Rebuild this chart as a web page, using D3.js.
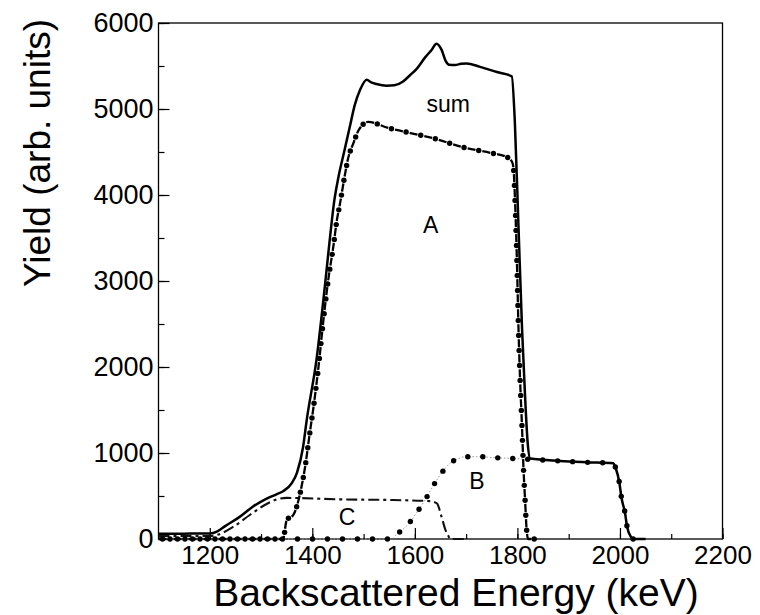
<!DOCTYPE html>
<html>
<head>
<meta charset="utf-8">
<script src="https://cdn.jsdelivr.net/npm/d3@7"></script>
<style>
  html, body { margin: 0; padding: 0; background: #fff; }
  svg { display: block; }
  text { font-family: "Liberation Sans", Arial, sans-serif; fill: #000; }
</style>
</head>
<body>
<svg id="chart" width="760" height="615"></svg>
<script>
// ---- data ----
const xTickValues = [1200, 1400, 1600, 1800, 2000, 2200];
const yTickValues = [0, 1000, 2000, 3000, 4000, 5000, 6000];
const xTitle = "Backscattered Energy (keV)";
const yTitle = "Yield (arb. units)";

const sumEnergy = [1100,1150,1200,1215,1230,1259,1285,1311,1330,1343,1360,1370,1382,1389,1408,1425,1434,1443,1451,1462,1473,1483,1493,1506,1515,1525,1545,1560,1577,1590,1604,1620,1633,1642,1652,1660,1667,1678,1690,1701,1727,1760,1789,1795,1802,1809,1815,1820,1825,1883,1935,1987,1992,1999,2003,2010,2014,2022,2026,2050];
const sumYield  = [60,62,65,90,150,260,380,470,520,555,650,770,1070,1380,2080,2970,3480,3940,4210,4500,4790,5050,5220,5340,5310,5290,5270,5275,5320,5390,5470,5600,5690,5760,5690,5560,5515,5512,5525,5530,5490,5430,5380,4850,3650,2450,1650,1120,935,907,892,880,820,650,480,300,140,20,0,0];

const aEnergy = [1100,1343,1350,1363,1373,1379,1386,1395,1402,1412,1421,1431,1441,1448,1454,1464,1470,1480,1490,1509,1548,1577,1607,1636,1691,1747,1776,1789,1792,1796,1799,1802,1805,1809,1812,1815,1818,1821,1840];
const aYield  = [0,0,220,280,450,610,840,1230,1520,2000,2510,3010,3400,3710,3900,4250,4430,4600,4750,4850,4780,4740,4700,4660,4560,4490,4450,4390,4330,3830,3240,2470,1890,1300,800,450,105,0,0];

const bEnergy = [1100,1555,1564,1587,1604,1620,1635,1651,1670,1685,1698,1727,1756,1786,1812,1825,1883,1935,1987,1992,1999,2003,2010,2014,2022,2026,2050];
const bYield  = [0,0,50,172,310,455,610,760,887,935,957,957,945,938,930,927,907,892,880,820,650,480,300,140,20,0,0];

const cEnergy = [1100,1200,1214,1246,1278,1304,1331,1350,1380,1454,1558,1630,1643,1652,1660,1665,1669,1700];
const cYield  = [35,35,47,143,279,384,461,478,475,461,453,440,415,259,100,40,0,0];

const labels = [
  {text: "sum", e: 1665, v: 4965},
  {text: "A",   e: 1631, v: 3560},
  {text: "B",   e: 1721, v: 585},
  {text: "C",   e: 1468, v: 165}
];

// ---- drawing ----
const svg = d3.select("#chart");
const x = d3.scaleLinear().domain([1100, 2200]).range([158.5, 722.5]);
const y = d3.scaleLinear().domain([0, 6000]).range([539, 23]);

// frame
svg.append("rect")
  .attr("x", x(1100)).attr("y", y(6000))
  .attr("width", x(2200) - x(1100)).attr("height", y(0) - y(6000))
  .attr("fill", "none").attr("stroke", "#000").attr("stroke-width", 1.3);

// minor ticks
svg.append("g").attr("transform", `translate(0,${y(0)})`)
  .call(d3.axisBottom(x).tickValues(d3.range(1100, 2201, 100)).tickSize(-5).tickFormat(""))
  .call(g => g.select(".domain").remove())
  .selectAll("line").attr("stroke-width", 1.2);
svg.append("g").attr("transform", `translate(${x(1100)},0)`)
  .call(d3.axisLeft(y).tickValues(d3.range(0, 6001, 500)).tickSize(-6).tickFormat(""))
  .call(g => g.select(".domain").remove())
  .selectAll("line").attr("stroke-width", 1.2);

// major ticks + labels
const gx = svg.append("g").attr("transform", `translate(0,${y(0)})`)
  .call(d3.axisBottom(x).tickValues(xTickValues).tickSize(-11).tickPadding(7).tickFormat(d3.format("d")));
gx.select(".domain").remove();
gx.selectAll("line").attr("stroke-width", 1.2);
gx.selectAll("text").style("font-size", "26px").style("font-family", '"Liberation Sans", Arial, sans-serif').attr("fill", "#000");

const gy = svg.append("g").attr("transform", `translate(${x(1100)},0)`)
  .call(d3.axisLeft(y).tickValues(yTickValues).tickSize(-11).tickPadding(5).tickFormat(d3.format("d")));
gy.select(".domain").remove();
gy.selectAll("line").attr("stroke-width", 1.2);
gy.selectAll("text").style("font-size", "27px").style("font-family", '"Liberation Sans", Arial, sans-serif').attr("fill", "#000");

// titles
svg.append("text").attr("x", 456).attr("y", 606).attr("text-anchor", "middle")
  .style("font-size", "39px").text(xTitle);
svg.append("text").attr("transform", "translate(50,153) rotate(-90)").attr("text-anchor", "middle")
  .style("font-size", "37px").text(yTitle);

const line = d3.line().x(d => x(d[0])).y(d => y(d[1])).curve(d3.curveMonotoneX);
const zipd = (es, vs) => es.map((e, i) => [e, vs[i]]);

function markers(pathNode, step, offset) {
  const L = pathNode.getTotalLength();
  const pts = [];
  for (let s = offset; s <= L; s += step) pts.push(pathNode.getPointAtLength(s));
  return pts;
}

// C: dashed
svg.append("path").datum(zipd(cEnergy, cYield))
  .attr("d", line).attr("fill", "none").attr("stroke", "#111")
  .attr("stroke-width", 2.1).attr("stroke-dasharray", "11,4,3,4");

// B: thin gray dotted line with large dots
const bPath = svg.append("path").datum(zipd(bEnergy, bYield))
  .attr("d", line).attr("fill", "none").attr("stroke", "#999")
  .attr("stroke-width", 1).attr("stroke-dasharray", "1.5,2");

// A: dashes with dots
const aPath = svg.append("path").datum(zipd(aEnergy, aYield))
  .attr("d", line).attr("fill", "none").attr("stroke", "#000")
  .attr("stroke-width", 2.3).attr("stroke-dasharray", "8,7");

// sum: solid
svg.append("path").datum(zipd(sumEnergy, sumYield))
  .attr("d", line).attr("fill", "none").attr("stroke", "#000")
  .attr("stroke-width", 2.5);

svg.append("g").selectAll("circle").data(markers(bPath.node(), 15, 4)).join("circle")
  .attr("cx", d => d.x).attr("cy", d => d.y).attr("r", 2.7).attr("fill", "#000");
svg.append("g").selectAll("circle").data(markers(aPath.node(), 15, 11.5)).join("circle")
  .attr("cx", d => d.x).attr("cy", d => d.y).attr("r", 2.7).attr("fill", "#000");

// curve labels
svg.append("g").selectAll("text").data(labels).join("text")
  .attr("x", d => x(d.e)).attr("y", d => y(d.v))
  .attr("text-anchor", "middle").style("font-size", "23px")
  .text(d => d.text);
</script>
</body>
</html>
